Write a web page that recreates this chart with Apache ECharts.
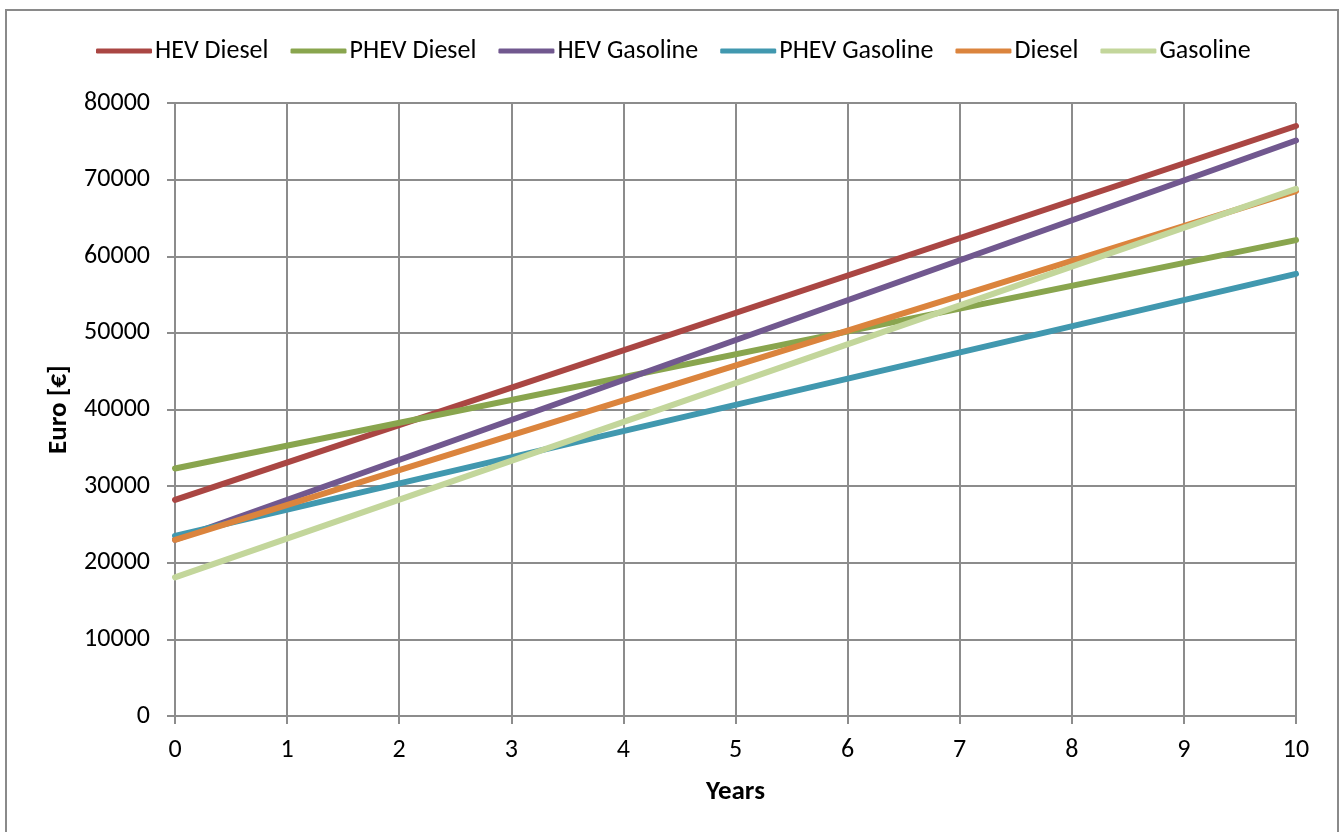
<!DOCTYPE html>
<html>
<head>
<meta charset="utf-8">
<script src="https://cdn.jsdelivr.net/npm/echarts@6/dist/echarts.min.js"></script>
<style>
  html, body { margin: 0; padding: 0; background: #ffffff; }
  #chart { width: 1341px; height: 832px; }
</style>
</head>
<body>
<div id="chart"></div>
<script>
// Years at which the cost totals are given (start and end of the period)
const years = [0, 10];

// Cumulative cost in euro per powertrain
const hevDiesel    = [28200, 77000];
const phevDiesel   = [32300, 62100];
const hevGasoline  = [23000, 75100];
const phevGasoline = [23500, 57700];
const diesel       = [23000, 68500];
const gasoline     = [18100, 68800];

const seriesNames  = ['HEV Diesel', 'PHEV Diesel', 'HEV Gasoline', 'PHEV Gasoline', 'Diesel', 'Gasoline'];
const seriesValues = [hevDiesel, phevDiesel, hevGasoline, phevGasoline, diesel, gasoline];
const seriesColors = ['#AA4643', '#89A54E', '#71588F', '#4198AF', '#DB843D', '#C3D69B'];

const FONT = 'Carlito, Lato, sans-serif';
const GRID_COLOR = '#8c8c8c';

const chart = echarts.init(document.getElementById('chart'), null, { renderer: 'canvas' });

chart.setOption({
  animation: false,
  backgroundColor: '#ffffff',
  textStyle: { fontFamily: FONT },
  graphic: [{
    type: 'rect',
    shape: { x: 6, y: 10, width: 1332, height: 830 },
    style: { fill: 'none', stroke: '#8a8a8a', lineWidth: 2 },
    silent: true
  }],
  legend: {
    left: 91,
    top: 33,
    itemWidth: 56,
    itemHeight: 5,
    itemGap: 22,
    icon: 'roundRect',
    textStyle: { fontFamily: FONT, fontSize: 26, color: '#000000', padding: [0, 0, 0, -2] },
    data: seriesNames.map((n, i) => ({ name: n, itemStyle: { color: seriesColors[i] } }))
  },
  grid: { left: 175, right: 45, top: 103, bottom: 116, containLabel: false },
  xAxis: {
    type: 'value',
    min: 0,
    max: 10,
    interval: 1,
    name: 'Years',
    nameLocation: 'middle',
    nameGap: 63,
    nameTextStyle: { fontFamily: FONT, fontSize: 27, fontWeight: 'bold', color: '#000000' },
    axisLine: { show: true, lineStyle: { color: GRID_COLOR, width: 2 } },
    axisTick: { show: true, length: 8, lineStyle: { color: GRID_COLOR, width: 2 } },
    axisLabel: { fontFamily: FONT, fontSize: 26, color: '#000000', margin: 21 },
    splitLine: { show: true, lineStyle: { color: GRID_COLOR, width: 2 } }
  },
  yAxis: {
    type: 'value',
    min: 0,
    max: 80000,
    interval: 10000,
    name: 'Euro [€]',
    nameLocation: 'middle',
    nameGap: 101,
    nameRotate: 90,
    nameTextStyle: { fontFamily: FONT, fontSize: 27, fontWeight: 'bold', color: '#000000' },
    axisLine: { show: true, lineStyle: { color: GRID_COLOR, width: 2 } },
    axisTick: { show: true, length: 8, lineStyle: { color: GRID_COLOR, width: 2 } },
    axisLabel: {
      fontFamily: FONT, fontSize: 26, color: '#000000', margin: 25,
      formatter: v => String(v)
    },
    splitLine: { show: true, lineStyle: { color: GRID_COLOR, width: 2 } }
  },
  series: seriesNames.map((name, i) => ({
    name: name,
    type: 'line',
    data: years.map((y, k) => [y, seriesValues[i][k]]),
    showSymbol: false,
    symbol: 'none',
    lineStyle: { color: seriesColors[i], width: 6, cap: 'round' },
    itemStyle: { color: seriesColors[i] },
    z: 2 + i
  }))
});
</script>
</body>
</html>
